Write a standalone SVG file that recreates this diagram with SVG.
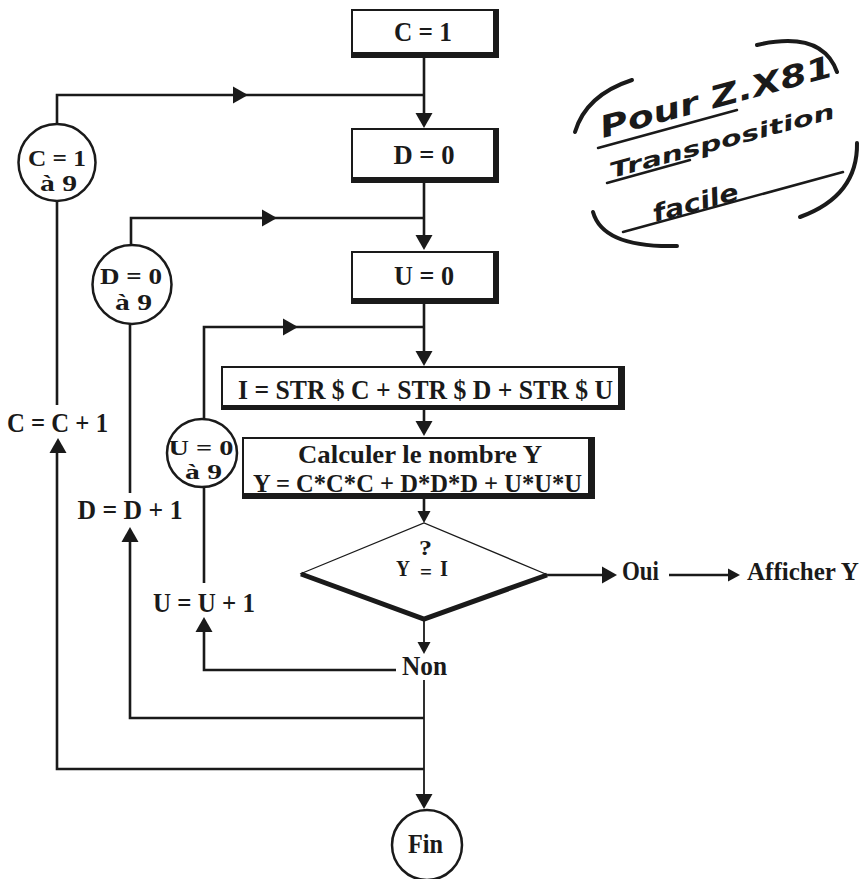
<svg xmlns="http://www.w3.org/2000/svg" xmlns:xlink="http://www.w3.org/1999/xlink" width="864" height="879" viewBox="0 0 864 879">
<style>
  .t { font-family: "Liberation Serif", "DejaVu Serif", serif; font-weight: bold; font-size: 28px; fill: #1a1a1a; }
  .s26 { font-size: 26px; }
  .sc { font-size: 24px; }
  .sd { font-size: 22px; }
  .m { text-anchor: middle; }
  .shade { fill: #1a1a1a; }
  .face { fill: #ffffff; }
  .ln { fill: none; stroke: #1a1a1a; stroke-width: 2.6; stroke-linecap: butt; stroke-linejoin: miter; }
  .thin { fill: none; stroke: #1a1a1a; stroke-width: 1.8; }
  .circ { fill: #ffffff; stroke: #1a1a1a; stroke-width: 2.5; }
  .hand { font-family: "DejaVu Sans", "Liberation Sans", sans-serif; font-style: oblique; font-weight: bold; fill: #1a1a1a; }
  .pen { fill: none; stroke: #1a1a1a; stroke-width: 2.5; stroke-linecap: round; }
  .brk { fill: none; stroke: #1a1a1a; stroke-width: 4; stroke-linecap: round; }
</style>
<defs>
  <path id="ah" d="M0,0 L-15,-8.5 L-15,8.5 Z" fill="#1a1a1a"/>
  <path id="ahs" d="M0,0 L-12,-6.5 L-12,6.5 Z" fill="#1a1a1a"/>
</defs>
<rect x="0" y="0" width="864" height="879" fill="#ffffff"/>

<g id="connectors">
  <path class="ln" d="M424,58 V116 M424,183 V237 M424,304 V352 M424,410 V424 M424,499 V513"/>
  <path class="thin" d="M424,620 V643 M424,680 V796"/>
  <path class="ln" d="M57,124 V95 H424"/>
  <path class="ln" d="M131,244 V218 H424"/>
  <path class="ln" d="M204,419 V327 H424"/>
  <path class="ln" d="M57,201 V405 M57,452 V769 H424"/>
  <path class="ln" d="M130,324 V493 M130,541 V718 H424"/>
  <path class="ln" d="M204,487 V583 M204,631 V670 H396"/>
  <path class="ln" d="M546,575 H604 M669,575 H729"/>
  <use xlink:href="#ah" transform="translate(248,95)"/>
  <use xlink:href="#ah" transform="translate(277,218)"/>
  <use xlink:href="#ah" transform="translate(298,327)"/>
  <use xlink:href="#ah" transform="translate(424,128) rotate(90)"/>
  <use xlink:href="#ah" transform="translate(424,250) rotate(90)"/>
  <use xlink:href="#ah" transform="translate(424,366) rotate(90)"/>
  <use xlink:href="#ah" transform="translate(424,436) rotate(90)"/>
  <use xlink:href="#ahs" transform="translate(424,523) rotate(90)"/>
  <use xlink:href="#ahs" transform="translate(424,654) rotate(90)"/>
  <use xlink:href="#ah" transform="translate(424,809) rotate(90)"/>
  <use xlink:href="#ah" transform="translate(58,438) rotate(-90)"/>
  <use xlink:href="#ah" transform="translate(130,527) rotate(-90)"/>
  <use xlink:href="#ah" transform="translate(204,617) rotate(-90)"/>
  <use xlink:href="#ah" transform="translate(617,575)"/>
  <use xlink:href="#ahs" transform="translate(740,575)"/>
</g>

<g id="c1">
  <rect class="shade" x="351" y="9" width="148" height="49"/>
  <rect class="face" x="353" y="11" width="140" height="41"/>
  <text class="t m" x="423" y="41" textLength="58" lengthAdjust="spacingAndGlyphs">C = 1</text>
</g>
<g id="d0">
  <rect class="shade" x="351" y="128" width="148" height="55"/>
  <rect class="face" x="353" y="130" width="140" height="47"/>
  <text class="t m" x="424" y="164" textLength="61" lengthAdjust="spacingAndGlyphs">D = 0</text>
</g>
<g id="u0">
  <rect class="shade" x="351" y="251" width="148" height="53"/>
  <rect class="face" x="353" y="253" width="140" height="45"/>
  <text class="t m" x="424" y="285" textLength="60" lengthAdjust="spacingAndGlyphs">U = 0</text>
</g>
<g id="istr">
  <rect class="shade" x="221" y="366" width="404" height="44"/>
  <rect class="face" x="223" y="368" width="395" height="37"/>
  <text class="t m" x="425.5" y="399" textLength="375" lengthAdjust="spacingAndGlyphs">I = STR $ C + STR $ D + STR $ U</text>
</g>
<g id="calc">
  <rect class="shade" x="242" y="437" width="353" height="62"/>
  <rect class="face" x="244" y="439" width="344" height="54"/>
  <text class="t s26 m" x="420" y="463" textLength="244" lengthAdjust="spacingAndGlyphs">Calculer le nombre Y</text>
  <text class="t s26 m" x="417.5" y="492" textLength="329" lengthAdjust="spacingAndGlyphs">Y = C*C*C + D*D*D + U*U*U</text>
</g>

<g id="loopC">
  <circle class="circ" cx="57" cy="162.5" r="38.5"/>
  <text class="t sc m" x="57" y="166" textLength="58" lengthAdjust="spacingAndGlyphs">C = 1</text>
  <text class="t sc m" x="58.5" y="191" textLength="37" lengthAdjust="spacingAndGlyphs">à 9</text>
</g>
<g id="loopD">
  <circle class="circ" cx="132" cy="284.5" r="39.5"/>
  <text class="t sc m" x="131" y="284" textLength="62" lengthAdjust="spacingAndGlyphs">D = 0</text>
  <text class="t sc m" x="133.5" y="310" textLength="37" lengthAdjust="spacingAndGlyphs">à 9</text>
</g>
<g id="loopU">
  <ellipse class="circ" cx="202" cy="453" rx="35" ry="34"/>
  <text class="t sd m" x="201" y="455" textLength="65" lengthAdjust="spacingAndGlyphs">U = 0</text>
  <text class="t sd m" x="203.5" y="479" textLength="37" lengthAdjust="spacingAndGlyphs">à 9</text>
</g>

<g id="incC"><text class="t m" x="57.5" y="432" textLength="101" lengthAdjust="spacingAndGlyphs">C = C + 1</text></g>
<g id="incD"><text class="t m" x="130" y="519" textLength="105" lengthAdjust="spacingAndGlyphs">D = D + 1</text></g>
<g id="incU"><text class="t m" x="204" y="612" textLength="102" lengthAdjust="spacingAndGlyphs">U = U + 1</text></g>

<g id="test">
  <polygon points="300,574 424,523 548,575 424,620" fill="#ffffff" stroke="none"/>
  <path d="M300,574 L424,523 L548,575" fill="none" stroke="#1a1a1a" stroke-width="1.3"/>
  <path d="M301,574 L424,619 L547,575" fill="none" stroke="#1a1a1a" stroke-width="5" stroke-linejoin="miter"/>
  <text class="t" x="396" y="576" style="font-size:23px" textLength="14" lengthAdjust="spacingAndGlyphs">Y</text>
  <text class="t" x="419" y="555" style="font-size:21px" textLength="13" lengthAdjust="spacingAndGlyphs">?</text>
  <text class="t" x="420" y="579" style="font-size:20px" textLength="12" lengthAdjust="spacingAndGlyphs">=</text>
  <text class="t" x="440" y="576" style="font-size:23px" textLength="8" lengthAdjust="spacingAndGlyphs">I</text>
</g>

<g id="non"><text class="t m" x="424.5" y="675" textLength="45" lengthAdjust="spacingAndGlyphs">Non</text></g>
<g id="oui"><text class="t" x="622" y="580" textLength="37" lengthAdjust="spacingAndGlyphs">Oui</text></g>
<g id="afficher"><text class="t" x="747" y="580" style="font-size:25px">Afficher Y</text></g>

<g id="fin">
  <ellipse class="circ" cx="427" cy="845" rx="35" ry="35"/>
  <text class="t m" x="425.5" y="853" textLength="35" lengthAdjust="spacingAndGlyphs">Fin</text>
</g>

<g id="note">
  <path class="brk" d="M632,80 Q586,95 575,132"/>
  <path class="brk" d="M757,45 Q822,30 837,72"/>
  <path class="brk" d="M593,212 Q603,248 677,246"/>
  <path class="brk" d="M857,143 Q858,196 800,217"/>
  <path class="pen" d="M598,148 L737,110"/>
  <path class="pen" d="M607,183 L690,160"/>
  <path class="pen" d="M623,232 L843,172"/>
  <text class="hand" transform="translate(603,138) rotate(-15)" style="font-size:30px" textLength="240" lengthAdjust="spacingAndGlyphs">Pour Z.X81</text>
  <text class="hand" transform="translate(612,178) rotate(-15)" style="font-size:21px" textLength="232" lengthAdjust="spacingAndGlyphs">Transposition</text>
  <text class="hand" transform="translate(655,222) rotate(-15)" style="font-size:24px" textLength="88" lengthAdjust="spacingAndGlyphs">facile</text>
</g>
</svg>
